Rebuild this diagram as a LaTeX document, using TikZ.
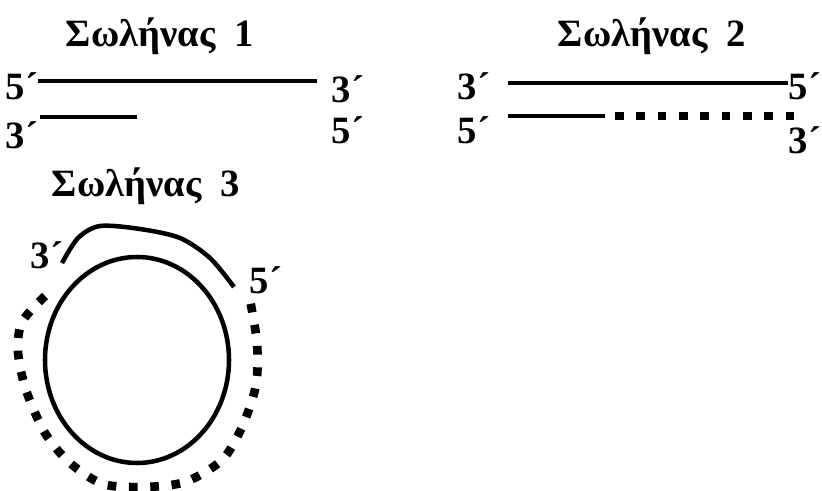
\documentclass[tikz,border=0pt]{standalone}
\usepackage{fontspec}
\setmainfont{Liberation Serif}

\tikzset{
  lbl/.style={font=\fontsize{29}{33}\selectfont\bfseries, inner sep=0pt},
  strand/.style={line width=3.4pt},
  newstrand/.style={line width=6.5pt, dash pattern=on 6.5pt off 9.5pt}
}

\begin{document}
\begin{tikzpicture}[x=0.75pt,y=-0.75pt]
    \useasboundingbox (0,0) rectangle (822,491);

    % Tube 1
    \node[lbl] (t1) at (160,36) {Σωλήνας\ \ 1};
    \node[lbl] (a5) at (22,86) {5´};
    \node[lbl] (a3) at (348,89) {3´};
    \node[lbl] (b3) at (22,135) {3´};
    \node[lbl] (b5) at (348,130) {5´};
    \draw[strand] (38,81) -- (317,81);
    \draw[strand] (40,117) -- (137,117);

    % Tube 2
    \node[lbl] (t2) at (652,36) {Σωλήνας\ \ 2};
    \node[lbl] (c3) at (474,86) {3´};
    \node[lbl] (c5) at (805,86) {5´};
    \node[lbl] (d5) at (474,130) {5´};
    \node[lbl] (d3) at (805,140) {3´};
    \draw[strand] (508,83) -- (788,83);
    \draw[strand] (508,116) -- (605,116);
    \draw[newstrand] (615,116) -- (800,116);

    % Tube 3
    \node[lbl] (t3) at (146,186) {Σωλήνας\ \ 3};
    \node[lbl] (e3) at (47,255) {3´};
    \node[lbl] (e5) at (266,280) {5´};
    \draw[strand] (137,360) ellipse [x radius=92, y radius=103];
    \draw[strand] plot[smooth] coordinates {(62,263) (78,238) (100,226) (140,229) (180,238) (210,258) (234,287)};
    \draw[newstrand] plot[smooth] coordinates {(45,296) (22,322) (18,352) (26,390) (45,433)
        (70,463) (103,484) (143,487) (185,482) (222,460) (242,427) (256,385) (257,343) (250,300)};

\end{tikzpicture}
\end{document}
